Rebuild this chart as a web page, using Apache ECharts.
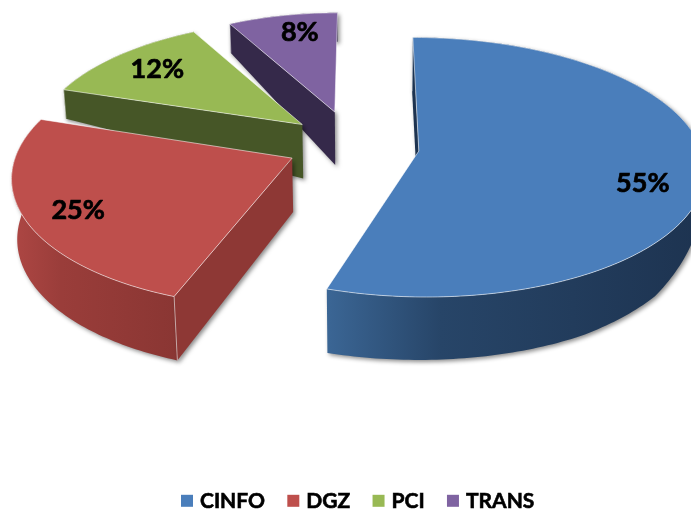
<!DOCTYPE html>
<html><head><meta charset="utf-8">
<style>html,body{margin:0;padding:0;background:#fff}#c{width:691px;height:510px}</style>
<script src="https://cdn.jsdelivr.net/npm/echarts@6/dist/echarts.min.js"></script>
</head><body><div id="c"></div>
<script>
const categories = ['CINFO', 'DGZ', 'PCI', 'TRANS'];
const shares = [55, 25, 12, 8];
const topColors = ['#4A7EBB', '#BE4F4C', '#98B954', '#7F63A1'];
const wallColors = [['#3B6695', '#274568', '#1D3350'], ['#AE4744', '#9A3D3A', '#8A3633'], ['#4C5D2A', '#465627', '#3E4C22'], ['#3A2D50', '#362A4B', '#33284A']];
const startWallColors = ['#1D3350', '#8E3835', '#465627', '#35294A'];
const rimDepths = [
  [[0, 54], [90, 20], [114, 40], [130, 56], [150, 61], [198, 64]],
  [[198, 64], [240, 62], [270, 60], [288, 52]],
  [[288, 29], [332, 29]],
  [[331, 29], [360, 29]]
];
const apexDepths = [54, 54, 54, 53];
const labelOffsets = [[224, 32], [-214, 52], [-145, -55], [-35, -80]];
const zOrder = [4, 3, 2, 1];
// small per-slice layout corrections (screen shift, radial scale, edge angle)
const sliceShift = [[0, -1], [0, -3], [0, -4], [-2, -7]];
const sliceScale = [[1, 1], [0.97, 1], [0.95, 0.96], [0.9, 0.93]];
const startAngleAdjust = [0, 2.2, 0, 0];

// perspective plane of the pie
const VP = [365, -870], KX = 2265, KY = 8176, EYE = 8;
const CENTER = [-0.044, -0.037], EXPLODE = 0.237;
const rad = d => d * Math.PI / 180;
function project(u, v) { const w = EYE - v; return [VP[0] + KX * u / w, VP[1] + KY / w]; }
function below(p, d) { return [p[0] + (VP[0] - p[0]) * 0.016 * d / 60, p[1] + d]; }
function depthAt(tbl, t) {
  if (t <= tbl[0][0]) return tbl[0][1];
  for (let i = 1; i < tbl.length; i++) {
    if (t <= tbl[i][0]) {
      const a = tbl[i - 1], b = tbl[i];
      return a[1] + (b[1] - a[1]) * (t - a[0]) / (b[0] - a[0]);
    }
  }
  return tbl[tbl.length - 1][1];
}
const total = shares.reduce((a, b) => a + b, 0);
const starts = []; shares.reduce((acc, s, i) => (starts[i] = acc, acc + s), 0);

function makeRender(idx) {
  return function (params, api) {
    const val = api.value(1), from = api.value(0);
    const a0 = from / total * 360, a1 = (from + val) / total * 360, mid = (a0 + a1) / 2;
    const ua = CENTER[0] + EXPLODE * Math.sin(rad(mid)), va = CENTER[1] - EXPLODE * Math.cos(rad(mid));
    const raw = project(ua, va);
    const sh = sliceShift[idx], sc = sliceScale[idx];
    const apex = [raw[0] + sh[0], raw[1] + sh[1]];
    const pt = (t) => {
      const q = project(ua + Math.sin(rad(t)), va - Math.cos(rad(t)));
      return [apex[0] + (q[0] - raw[0]) * sc[0], apex[1] + (q[1] - raw[1]) * sc[1]];
    };
    const rim = [], angles = [];
    const b0 = a0 + startAngleAdjust[idx];
    const n = Math.max(12, Math.round(a1 - b0));
    for (let i = 0; i <= n; i++) { const t = b0 + (a1 - b0) * i / n; angles.push(t); rim.push(pt(t)); }
    const tbl = rimDepths[idx];
    const rimBottom = rim.map((p, i) => below(p, depthAt(tbl, angles[i])));
    const apexB = below(apex, apexDepths[idx]);
    const shadow = { shadowBlur: 4, shadowOffsetX: 2, shadowOffsetY: 2, shadowColor: 'rgba(0,0,0,0.45)' };
    const wc = wallColors[idx];
    const children = [];
    children.push({ type: 'polygon', shape: { points: rim.concat(rimBottom.slice().reverse()) },
      style: Object.assign({ fill: { type: 'linear', x: 0, y: 0, x2: 1, y2: 0,
        colorStops: [{ offset: 0, color: wc[0] }, { offset: 0.3, color: wc[1] }, { offset: 1, color: wc[2] }] } }, shadow) });
    children.push({ type: 'polygon', shape: { points: [rim[0], apex, apexB, rimBottom[0]] },
      style: Object.assign({ fill: startWallColors[idx] }, shadow) });
    children.push({ type: 'line', shape: { x1: rim[0][0], y1: rim[0][1], x2: rimBottom[0][0], y2: rimBottom[0][1] },
      style: { stroke: 'rgba(255,255,255,0.5)', lineWidth: 1 } });
    children.push({ type: 'polygon', shape: { points: [apex].concat(rim) },
      style: { fill: topColors[idx], stroke: 'rgba(255,255,255,0.55)', lineWidth: 1 } });
    children.push({ type: 'text', style: {
      x: apex[0] + labelOffsets[idx][0], y: apex[1] + labelOffsets[idx][1],
      text: val + '%', fill: '#000', stroke: '#000', lineWidth: 0.7, font: 'bold 27px Lato', align: 'center', verticalAlign: 'middle' } });
    return { type: 'group', children };
  };
}

const chart = echarts.init(document.getElementById('c'), null, { renderer: 'canvas' });
chart.setOption({
  animation: false,
  legend: {
    data: categories, top: 485, left: 176, icon: 'rect', itemWidth: 12, itemHeight: 12, itemGap: 22,
    textStyle: { fontFamily: 'Lato', fontWeight: 'bold', fontSize: 21, color: '#000', padding: [0, 0, 0, 2], textBorderColor: '#000', textBorderWidth: 0.6 },
    selectedMode: false
  },
  series: categories.map((name, i) => ({
    type: 'custom', name, coordinateSystem: 'none', z: zOrder[i], silent: true,
    itemStyle: { color: topColors[i] },
    renderItem: makeRender(i),
    data: [[starts[i], shares[i]]]
  }))
});
</script></body></html>
